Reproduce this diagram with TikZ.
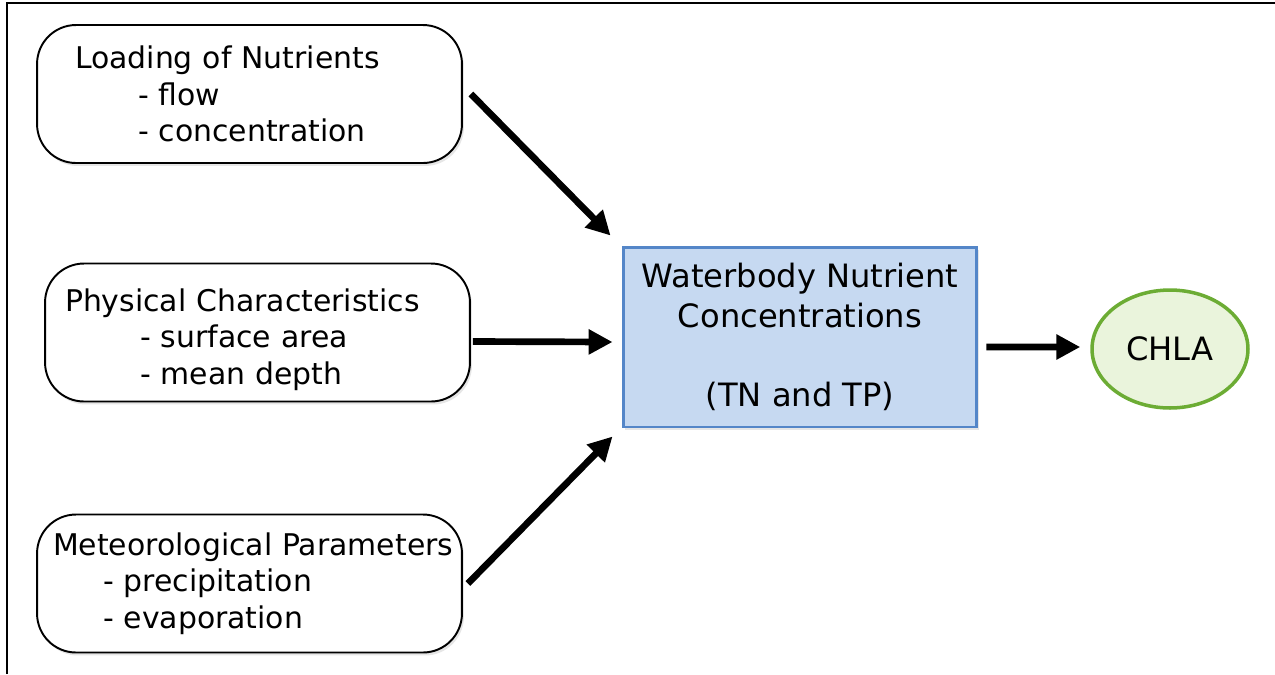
\documentclass[tikz,border=0pt]{standalone}
\usepackage{fontspec}
\setmainfont{DejaVu Sans}
\usetikzlibrary{arrows.meta,shadows,shapes.geometric}

\definecolor{wbfill}{RGB}{198,217,241}
\definecolor{wbline}{RGB}{84,134,200}
\definecolor{chlafill}{RGB}{234,244,220}
\definecolor{chlaline}{RGB}{108,172,52}

\tikzset{
    srcbox/.style={draw, line width=1.1pt, rounded corners=0.78cm, fill=white, minimum width=8.5cm, minimum height=2.76cm, align=left, font=\fontsize{17}{20.7}\selectfont, drop shadow={opacity=0.2, shadow xshift=0.04cm, shadow yshift=-0.06cm}},
    flowarrow/.style={line width=3.8pt, -{Triangle[length=0.48cm, width=0.48cm]}},
}

\begin{document}
\begin{tikzpicture}[x=0.02cm, y=-0.02cm]
        \useasboundingbox (0,0) rectangle (1275,674);
        % frame
        \path[draw, line width=1.2pt](7,674)to(7,3)to(1275,3);
        % inputs
        \node[srcbox, inner xsep=0.76cm, text width=6.98cm](loading) at (249.5,94)
            {Loading of Nutrients\\\hspace*{1.26cm}- flow\\\hspace*{1.26cm}- concentration};
        \node[srcbox, inner xsep=0.4cm, text width=7.7cm](physical) at (257.5,332.5)
            {\rule{0pt}{21pt}Physical Characteristics\\\hspace*{1.5cm}- surface area\\\hspace*{1.5cm}- mean depth};
        \node[srcbox, inner xsep=0.32cm, text width=7.86cm](meteo) at (249.5,583.5)
            {\mbox{Meteorological Parameters}\\\hspace*{1cm}- precipitation\\\hspace*{1cm}- evaporation};
        % waterbody and response
        \node[draw=wbline, fill=wbfill, line width=1.7pt, minimum width=7.08cm, minimum height=3.6cm, align=center,
            font=\fontsize{18.3}{22.7}\selectfont, drop shadow={opacity=0.2, shadow xshift=0.04cm, shadow yshift=-0.06cm}](water) at (800,337)
            {Waterbody Nutrient\\Concentrations\\[22.7pt](TN and TP)};
        \node[ellipse, draw=chlaline, fill=chlafill, line width=2pt, inner sep=0pt, minimum width=3.12cm, minimum height=2.36cm,
            font=\fontsize{18.3}{22.7}\selectfont](chla) at (1170,349) {CHLA};
        % arrows
        \path[draw, flowarrow]([xshift=0.16cm]loading.east)to([shift={(-0.22cm,0.2cm)}]water.north west);
        \path[draw, flowarrow]([xshift=0.04cm,yshift=-0.18cm]physical.east)to([xshift=-0.18cm,yshift=-0.1cm]water.west);
        \path[draw, flowarrow]([xshift=0.1cm]meteo.east)to([shift={(-0.18cm,-0.16cm)}]water.south west);
        \path[draw, flowarrow]([xshift=0.16cm,yshift=-0.2cm]water.east)to([xshift=-0.2cm,yshift=0.04cm]chla.west);
    \end{tikzpicture}
\end{document}
